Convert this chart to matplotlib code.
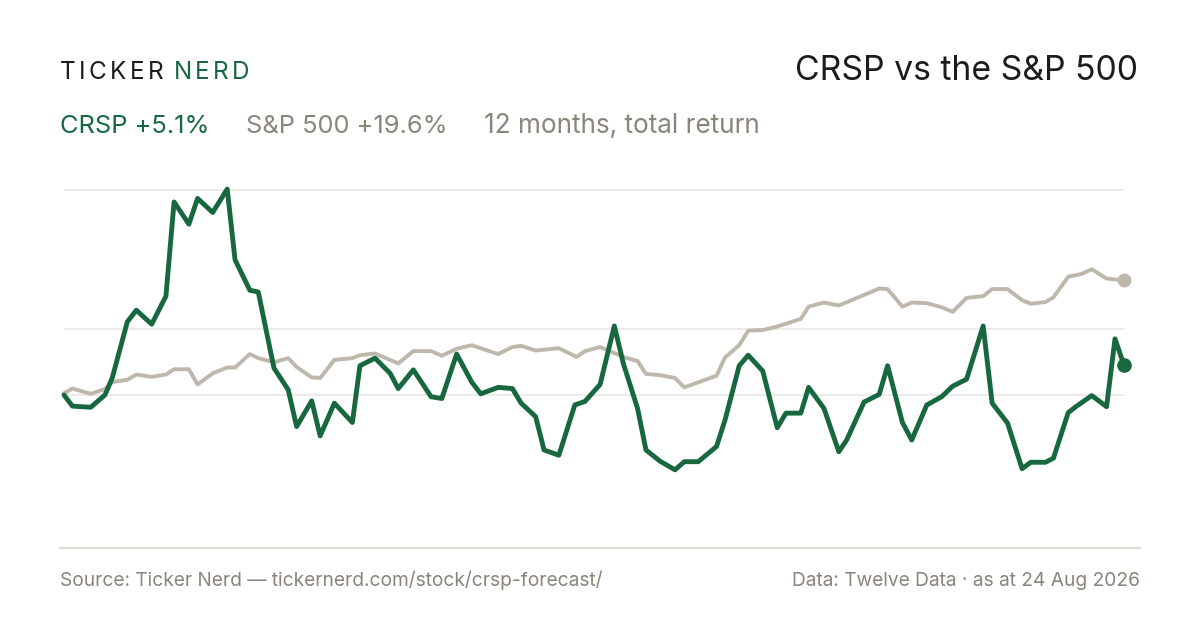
import matplotlib
matplotlib.use("Agg")
import matplotlib.pyplot as plt
from matplotlib.lines import Line2D

plt.rcParams['font.family'] = ['Inter', 'DejaVu Sans']

# days since start of the 12 month window, total return in %
crsp_days = [0, 2.9, 9.2, 14.1, 16.6, 21.8, 24.9, 30.2, 35.1, 37.9, 43.0, 46.0, 51.2, 56.2, 58.9,
             64.0, 66.9, 72.3, 77.2, 80.1, 85.3, 88.2, 93.1, 99.3, 101.9, 107.1, 112.3, 115.1,
             120.3, 126.4, 130.1, 135.2, 140.4, 143.5, 149.5, 154.4, 157.4, 162.4, 165.3, 170.4,
             175.9, 179.4, 184.6, 189.5, 192.6, 197.5, 200.4, 205.2, 210.4, 213.6, 218.4, 224.7,
             227.6, 232.5, 235.6, 240.6, 245.6, 248.6, 253.7, 256.4, 261.7, 266.8, 269.5, 275.5,
             280.7, 283.6, 288.7, 291.9, 297.1, 302.2, 306.0, 310.8, 316.5, 319.6, 324.9, 329.9,
             332.9, 338.0, 340.7, 345.8, 348.7, 353.9, 359.0, 361.9, 365.0]
crsp_ret = [0, -1.9, -2.1, 0, 2.9, 12.5, 14.5, 12.1, 16.9, 33.0, 29.2, 33.6, 31.2, 35.2, 23.1,
            17.9, 17.6, 4.6, 0.9, -5.4, -1.0, -7.0, -1.4, -4.7, 5.0, 6.3, 3.7, 1.1,
            4.3, -0.3, -0.6, 7.0, 2.2, 0.2, 1.3, 1.1, -1.4, -3.7, -9.4, -10.3,
            -1.7, -1.1, 1.8, 11.8, 5.4, -2.3, -9.4, -11.3, -12.8, -11.4, -11.4, -8.8,
            -4.3, 5.0, 6.8, 4.1, -5.6, -3.1, -3.1, 1.3, -2.3, -9.7, -7.7, -1.2,
            0.1, 5.0, -4.7, -7.7, -1.7, -0.3, 1.5, 2.7, 11.8, -1.4, -4.8, -12.6,
            -11.5, -11.5, -10.8, -3.0, -1.9, -0.1, -2.0, 9.6, 5.1]

spx_days = [0, 2.9, 9.2, 14.1, 16.6, 21.8, 24.9, 30.2, 35.1, 37.9, 43.0, 46.0, 51.2, 56.2, 58.9,
            64.0, 66.9, 72.3, 77.2, 80.1, 85.3, 88.2, 93.1, 99.3, 101.9, 107.1, 115.1, 120.3,
            126.4, 130.1, 135.2, 140.4, 149.5, 154.4, 157.4, 162.4, 170.4, 176.5, 179.4, 184.6,
            193.2, 197.5, 200.4, 205.2, 210.4, 213.6, 224.7, 227.6, 232.5, 235.6, 240.6, 245.6,
            253.7, 256.4, 261.7, 266.8, 275.5, 280.7, 283.6, 288.7, 291.9, 297.1, 302.2, 306.0,
            310.8, 316.5, 319.6, 324.9, 329.9, 332.9, 338.0, 340.7, 345.8, 350.4, 353.9, 359.0,
            365.0]
spx_ret = [0.3, 1.1, 0.2, 1.0, 2.2, 2.6, 3.5, 3.1, 3.5, 4.4, 4.4, 1.8, 3.7, 4.7, 4.7,
           7.0, 6.3, 5.6, 6.3, 4.8, 3.0, 2.9, 6.0, 6.3, 6.8, 7.1, 5.4, 7.5,
           7.5, 6.7, 7.9, 8.5, 7.0, 8.2, 8.4, 7.6, 8.0, 6.5, 7.5, 8.2,
           6.4, 5.8, 3.6, 3.4, 2.9, 1.3, 3.3, 6.4, 8.5, 11.0, 11.1, 11.7,
           13.0, 15.1, 15.8, 15.3, 17.1, 18.2, 18.1, 15.1, 15.8, 15.7, 15.0, 14.2,
           16.6, 16.9, 18.1, 18.1, 16.2, 15.6, 15.9, 16.7, 20.2, 20.7, 21.5, 19.9,
           19.6]

grid_vals = [0, 11.2, 35.1]

GREEN = "#17683f"
GREY_LINE = "#bdb7ac"
GREY_TEXT = "#8a857a"
DARK = "#1c1c1c"

fig = plt.figure(figsize=(12, 6.3), dpi=100)
fig.patch.set_facecolor("white")

ax = fig.add_axes([64 / 1200, 130 / 630, 1060 / 1200, 320 / 630])
ax.set_xlim(0, 365)
ax.set_ylim(-17.95, 36.75)
ax.axis("off")

for g in grid_vals:
    ax.axhline(g, color="#ece9e3", lw=1.3, zorder=1)

ax.plot(spx_days, spx_ret, color=GREY_LINE, lw=2.8, solid_joinstyle="round",
        solid_capstyle="round", zorder=2, clip_on=False)
ax.plot(spx_days[-1:], spx_ret[-1:], "o", color=GREY_LINE, ms=9, zorder=3, clip_on=False)

ax.plot(crsp_days, crsp_ret, color=GREEN, lw=3.5, solid_joinstyle="round",
        solid_capstyle="round", zorder=4, clip_on=False)
ax.plot(crsp_days[-1:], crsp_ret[-1:], "o", color=GREEN, ms=9.5, zorder=5, clip_on=False)

# separator above the footer
fig.add_artist(Line2D([60 / 1200, 1140 / 1200], [1 - 548 / 630] * 2, color="#dedad1", lw=1.4))

# letter spaced brand name
fig.canvas.draw()
renderer = fig.canvas.get_renderer()
x = 60
for ch in "TICKER NERD":
    col = GREEN if x > 160 else DARK
    if ch != " ":
        t = fig.text(x / 1200, 1 - 79 / 630, ch, fontsize=17.5, color=col, va="baseline", ha="left")
        w = t.get_window_extent(renderer).width
    else:
        w = 4
    x += w + 3.3

fig.text(1138 / 1200, 1 - 80 / 630, "CRSP vs the S&P 500", fontsize=24.3, color=DARK,
         ha="right", va="baseline")

fig.text(60 / 1200, 1 - 133 / 630, "CRSP +5.1%", fontsize=18.3, color=GREEN, va="baseline")
fig.text(246 / 1200, 1 - 133 / 630, "S&P 500 +19.6%", fontsize=18.3, color=GREY_TEXT, va="baseline")
fig.text(484 / 1200, 1 - 133 / 630, "12 months, total return", fontsize=18.8, color=GREY_TEXT,
         va="baseline")

fig.text(60 / 1200, 1 - 586 / 630, "Source: Ticker Nerd \u2014 tickernerd.com/stock/crsp-forecast/",
         fontsize=13.8, color=GREY_TEXT, va="baseline")
fig.text(1140 / 1200, 1 - 586 / 630, "Data: Twelve Data \u00b7 as at 24 Aug 2026",
         fontsize=13.8, color=GREY_TEXT, ha="right", va="baseline")

fig.savefig("out.png", dpi=100, facecolor="white")
